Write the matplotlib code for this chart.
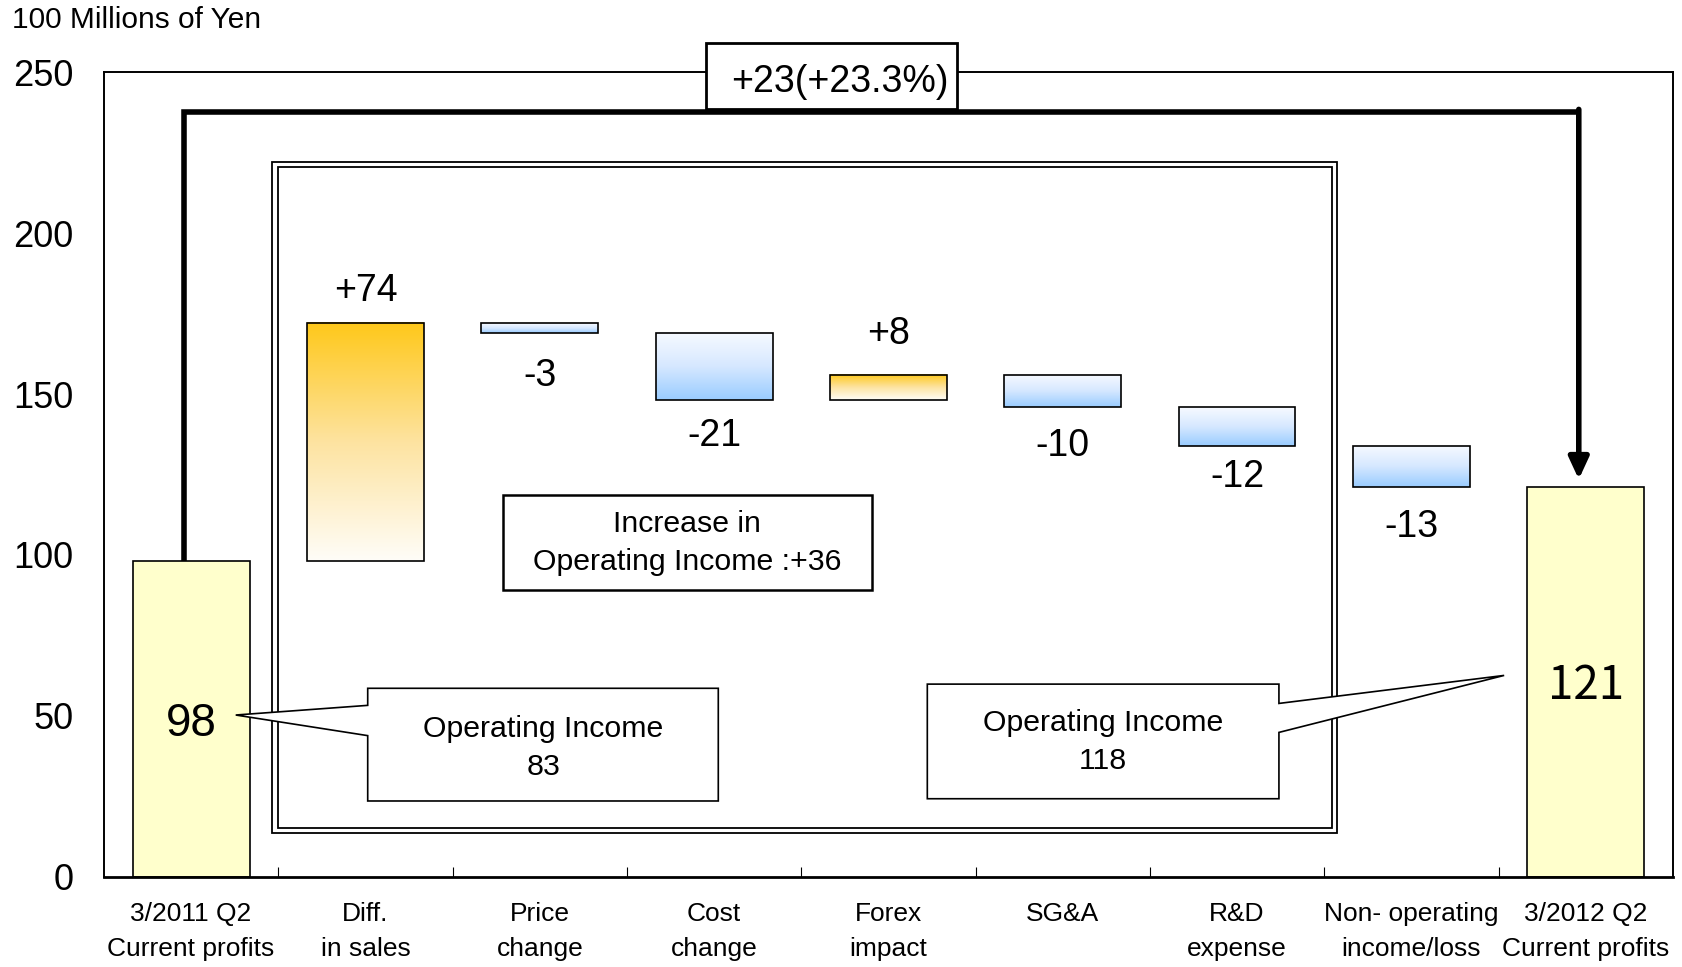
import numpy as np
import matplotlib
matplotlib.use("Agg")
import matplotlib.pyplot as plt
from matplotlib.colors import LinearSegmentedColormap
from matplotlib.patches import Rectangle, Polygon

plt.rcParams['font.family'] = ['Liberation Sans', 'DejaVu Sans']

# profit bridge, 100 millions of yen
categories = ['3/2011 Q2\nCurrent profits', 'Diff.\nin sales', 'Price\nchange',
              'Cost\nchange', 'Forex\nimpact', 'SG&A', 'R&D\nexpense',
              'Non- operating\nincome/loss', '3/2012 Q2\nCurrent profits']
start_profit = 98
end_profit = 121
changes = [74, -3, -21, 8, -10, -12, -13]
op_income_prev = 83
op_income_curr = 118
op_income_increase = 36
total_change_text = '+23(+23.3%)'

# distance of each change label from its bar, in points
label_gap = [23, 31, 25.5, 29, 28, 22.5, 28.5]

fig = plt.figure(figsize=(16.82, 9.67), dpi=100)
ax = fig.add_axes([0.0618, 0.0931, 0.9328, 0.8324])

bar_w = 0.67
cm_up = LinearSegmentedColormap.from_list('up', ['#fffdf8', '#fde3a0', '#ffc81a'])
cm_down = LinearSegmentedColormap.from_list('down', ['#99ccff', '#d6e8ff', '#f7faff'])
grad = np.linspace(0, 1, 256).reshape(-1, 1)

# end bars
for i, v in [(0, start_profit), (8, end_profit)]:
    ax.add_patch(Rectangle((i - bar_w / 2, 0), bar_w, v, facecolor='#ffffcc',
                           edgecolor='black', lw=1.2, zorder=2))

# floating bars with gradient fill
level = start_profit
for k, d in enumerate(changes):
    i = k + 1
    lo, hi = sorted([level, level + d])
    ax.imshow(grad, extent=[i - bar_w / 2, i + bar_w / 2, lo, hi], origin='lower',
              aspect='auto', cmap=cm_up if d > 0 else cm_down, zorder=2)
    ax.add_patch(Rectangle((i - bar_w / 2, lo), bar_w, hi - lo, fill=False,
                           edgecolor='black', lw=1.2, zorder=3))
    if d > 0:
        ax.annotate(f'{d:+d}', (i, hi), xytext=(0, label_gap[k]), textcoords='offset points',
                    ha='center', va='center', fontsize=27)
    else:
        ax.annotate(f'{d:+d}', (i, lo), xytext=(0, -label_gap[k]), textcoords='offset points',
                    ha='center', va='center', fontsize=27)
    level += d
ax.set_xlim(-0.5, 8.5)
ax.set_ylim(0, 250)

ax.text(0, 47.6, str(start_profit), ha='center', va='center', fontsize=33, zorder=4)
ax.text(8, 59.3, str(end_profit), ha='center', va='center', fontsize=33, zorder=4,
        family=['Noto Sans CJK JP', 'DejaVu Sans'])

# double frame around operating items
for x0, y0, x1, y1 in [(0.466, 13.6, 6.573, 222.0), (0.496, 15.3, 6.542, 220.4)]:
    ax.add_patch(Rectangle((x0, y0), x1 - x0, y1 - y0, fill=False, edgecolor='black',
                           lw=1.3, zorder=1))

# bracket from start to end profit
x_l, x_r, y_top = -0.04, 7.96, 237.7
ax.plot([x_l, x_l, x_r], [start_profit, y_top, y_top], color='black', lw=4,
        solid_joinstyle='miter', solid_capstyle='butt', zorder=4)
ax.annotate('', xy=(x_r, end_profit + 2.5), xytext=(x_r, y_top + 0.7),
            arrowprops=dict(arrowstyle='-|>,head_length=0.65,head_width=0.3',
                            mutation_scale=20, lw=4, color='black',
                            shrinkA=0, shrinkB=0), zorder=4)
ax.add_patch(Rectangle((2.956, 238.6), 4.395 - 2.956, 259.0 - 238.6, facecolor='white',
                       edgecolor='black', lw=2, zorder=6, clip_on=False))
ax.text(3.72, 246.8, total_change_text, ha='center', va='center', fontsize=27,
        zorder=7, clip_on=False)

ax.add_patch(Rectangle((1.788, 89.2), 3.903 - 1.788, 118.5 - 89.2, facecolor='white',
                       edgecolor='black', lw=1.8, zorder=5))
ax.text(2.846, 103.7, f'Increase in\nOperating Income :+{op_income_increase}',
        ha='center', va='center', fontsize=21.8, linespacing=1.45, zorder=6)

# callouts
left_call = [(1.013, 58.6), (3.024, 58.6), (3.024, 23.6), (1.013, 23.6),
             (1.013, 43.9), (0.256, 50.3), (1.013, 53.3)]
right_call = [(4.223, 59.9), (6.24, 59.9), (6.24, 53.9), (7.532, 62.6),
              (6.24, 44.9), (6.24, 24.3), (4.223, 24.3)]
for pts in [left_call, right_call]:
    ax.add_patch(Polygon(pts, closed=True, facecolor='white', edgecolor='black',
                         lw=1.2, zorder=5))
ax.text(2.02, 40.0, f'Operating Income\n{op_income_prev}', ha='center', va='center',
        fontsize=21.8, linespacing=1.45, zorder=6)
ax.text(5.23, 42.0, f'Operating Income\n{op_income_curr}', ha='center', va='center',
        fontsize=21.8, linespacing=1.45, zorder=6)

# axes styling
for s in ax.spines.values():
    s.set_linewidth(1.4)
ax.spines['bottom'].set_linewidth(2)
ax.set_yticks(np.arange(0, 251, 50))
ax.tick_params(axis='y', length=0, pad=22, labelsize=26)
ax.set_xticks(range(9))
ax.set_xticklabels(categories, fontsize=19)
for lbl in ax.get_xticklabels():
    lbl.set_linespacing(1.6)
ax.tick_params(axis='x', length=0, pad=18)
ax.set_xticks(np.arange(0.5, 8.5, 1), minor=True)
ax.tick_params(axis='x', which='minor', direction='in', length=7, width=0.8)

fig.text(0.007, 0.979, '100 Millions of Yen', fontsize=21.5, ha='left', va='center')

fig.savefig('out.png', dpi=100)
